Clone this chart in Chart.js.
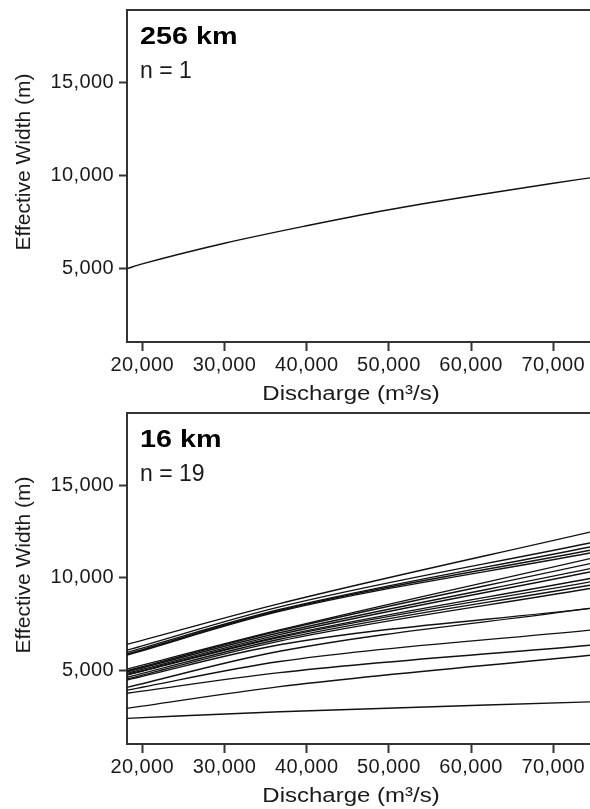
<!DOCTYPE html>
<html>
<head>
<meta charset="utf-8">
<script src="https://cdn.jsdelivr.net/npm/chart.js@4/dist/chart.umd.min.js"></script>
<style>
  html, body { margin: 0; padding: 0; background: #fff; overflow: hidden; }
  .panel { position: relative; width: 590px; }
  canvas { display: block; }
</style>
</head>
<body>
<div class="panel" style="height:404px"><canvas id="far"></canvas></div>
<div class="panel" style="height:405px"><canvas id="near"></canvas></div>
<script>
const X_TICKS = [20000, 30000, 40000, 50000, 60000, 70000];
const Y_TICKS = [5000, 10000, 15000];
const X_MIN = 18140;
const X_MAX = 74470;
const Y_MIN = 1060;
const Y_MAX = 18880;

const X_TITLE = 'Discharge (m³/s)';
const Y_TITLE = 'Effective Width (m)';

// 256 km reach: one rating curve
const FAR_LABEL = '256 km';
const FAR_COUNT = 'n = 1';
const FAR_DISCHARGE = [18140, 20000, 30000, 40000, 50000, 60000, 70000, 74470];
const FAR_WIDTH = [5000, 5250, 6360, 7300, 8160, 8900, 9580, 9870];

// 16 km reach: 19 curves, width at low, mid and high discharge
const NEAR_LABEL = '16 km';
const NEAR_COUNT = 'n = 19';
const NEAR_DISCHARGE = [18140, 36700, 74470];
const NEAR_WIDTHS = [
  [6420, 8620, 12470],
  [6110, 8440, 11880],
  [5990, 8300, 11670],
  [5900, 8250, 11490],
  [5845, 8200, 11340],
  [5090, 7200, 11040],
  [5000, 7150, 10770],
  [4950, 7050, 10500],
  [4860, 6950, 10320],
  [4800, 6850, 9970],
  [4770, 6800, 9790],
  [4650, 6700, 9610],
  [4560, 6600, 9430],
  [4500, 6400, 8360],
  [4110, 6050, 8360],
  [3960, 5500, 7190],
  [3790, 4900, 6380],
  [2980, 4150, 5840],
  [2440, 2800, 3330]
];

const FONT = '"Liberation Sans", Arial, Helvetica, sans-serif';
const INK = '#1a1a1a';
const AXIS = '#333';

// draw text stretched sideways by sx
function wideText(ctx, text, x, y, sx) {
  ctx.save();
  ctx.translate(x, y);
  ctx.scale(sx, 1);
  ctx.fillText(text, 0, 0);
  ctx.restore();
}

// panel label, count, axis titles and the top frame line
const panelText = {
  id: 'panelText',
  beforeDraw(chart) {
    chart.ctx.letterSpacing = '0.4px';
  },
  afterDraw(chart, args, opts) {
    const ctx = chart.ctx;
    const area = chart.chartArea;
    ctx.save();
    ctx.letterSpacing = '0px';
    ctx.strokeStyle = AXIS;
    ctx.lineWidth = 2;
    ctx.beginPath();
    ctx.moveTo(area.left, area.top);
    ctx.lineTo(chart.width, area.top);
    ctx.stroke();

    ctx.fillStyle = '#000';
    ctx.textAlign = 'left';
    ctx.textBaseline = 'alphabetic';
    ctx.font = 'bold 23px ' + FONT;
    wideText(ctx, opts.label, area.left + 13, area.top + 34, 1.25);
    ctx.fillStyle = INK;
    ctx.font = '23px ' + FONT;
    ctx.fillText(opts.count, area.left + 13, area.top + 68);

    ctx.font = '20px ' + FONT;
    ctx.textAlign = 'center';
    wideText(ctx, X_TITLE, 351, area.bottom + 58, 1.2);

    ctx.font = '21px ' + FONT;
    ctx.translate(24, area.top + 152);
    ctx.rotate(-Math.PI / 2);
    ctx.textBaseline = 'middle';
    ctx.fillText(Y_TITLE, 0, 0);
    ctx.restore();
  }
};

function makeDataset(xs, ys) {
  return {
    data: xs.map((x, i) => ({ x: x, y: ys[i] })),
    borderColor: '#111',
    borderWidth: 1.4,
    pointRadius: 0,
    fill: false,
    cubicInterpolationMode: 'monotone'
  };
}

function makeChart(id, datasets, label, count, topPad, xHeight) {
  return new Chart(document.getElementById(id), {
    type: 'line',
    data: { datasets: datasets },
    plugins: [panelText],
    options: {
      responsive: true,
      maintainAspectRatio: false,
      animation: false,
      layout: { padding: { top: topPad, left: 0, right: 0, bottom: 0 } },
      plugins: {
        legend: { display: false },
        tooltip: { enabled: false },
        panelText: { label: label, count: count }
      },
      scales: {
        x: {
          type: 'linear',
          min: X_MIN,
          max: X_MAX,
          afterBuildTicks: scale => { scale.ticks = X_TICKS.map(v => ({ value: v })); },
          afterFit: scale => {
            scale.height = xHeight;
            scale.paddingLeft = 0;
            scale.paddingRight = 0;
          },
          border: { display: true, color: AXIS, width: 2 },
          grid: { drawOnChartArea: false, drawTicks: true, tickLength: 9, tickColor: AXIS, tickWidth: 2 },
          ticks: {
            color: INK,
            padding: 2,
            maxRotation: 0,
            font: { family: FONT, size: 20 },
            callback: v => v.toLocaleString('en-US')
          }
        },
        y: {
          min: Y_MIN,
          max: Y_MAX,
          afterBuildTicks: scale => { scale.ticks = Y_TICKS.map(v => ({ value: v })); },
          afterFit: scale => {
            scale.width = 127;
            scale.paddingTop = 0;
            scale.paddingBottom = 0;
          },
          border: { display: true, color: AXIS, width: 2 },
          grid: { drawOnChartArea: false, drawTicks: true, tickLength: 8, tickColor: AXIS, tickWidth: 2 },
          ticks: {
            color: INK,
            padding: 5,
            font: { family: FONT, size: 20 },
            callback: v => v.toLocaleString('en-US')
          }
        }
      }
    }
  });
}

makeChart('far', [makeDataset(FAR_DISCHARGE, FAR_WIDTH)], FAR_LABEL, FAR_COUNT, 10, 62);
makeChart('near', NEAR_WIDTHS.map(w => makeDataset(NEAR_DISCHARGE, w)), NEAR_LABEL, NEAR_COUNT, 9, 65);
</script>
</body>
</html>
